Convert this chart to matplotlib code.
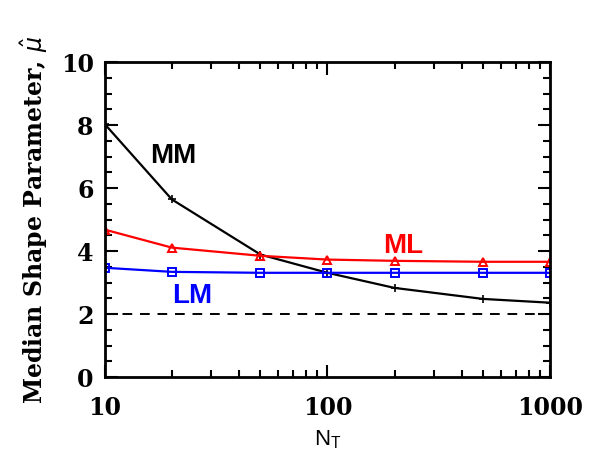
import matplotlib
matplotlib.use("Agg")
import matplotlib.pyplot as plt
from matplotlib.ticker import MultipleLocator, NullFormatter

NT = [10, 20, 50, 100, 200, 500, 1000]
mm = [8.03, 5.64, 3.89, 3.31, 2.83, 2.48, 2.36]
ml = [4.68, 4.11, 3.85, 3.73, 3.69, 3.66, 3.66]
lm = [3.47, 3.34, 3.31, 3.31, 3.31, 3.31, 3.31]
ref_level = 2.0
yticks = [0, 2, 4, 6, 8, 10]
xticks = [10, 100, 1000]
xticklabels = ["10", "100", "1000"]

fig = plt.figure(figsize=(5.89, 4.57), dpi=100)
ax = fig.add_axes([0.178, 0.175, 0.756, 0.689])

ax.plot(NT, mm, color="black", lw=1.6, marker="+", ms=6, mew=1.2)
ax.plot(NT, ml, color="#ff0000", lw=1.6, marker="^", ms=6, mfc="none", mew=1.4)
ax.plot(NT, lm, color="#0000ff", lw=1.6, marker="s", ms=6, mfc="none", mew=1.4)
ax.axhline(ref_level, color="black", lw=1.4, ls=(0, (5, 4)))

ax.set_xscale("log")
ax.set_xlim(10, 1000)
ax.set_ylim(0, 10)
ax.set_xticks(xticks)
ax.set_xticklabels(xticklabels)
ax.xaxis.set_minor_formatter(NullFormatter())
ax.set_yticks(yticks)
ax.yaxis.set_minor_locator(MultipleLocator(0.5))

for lab in ax.get_xticklabels() + ax.get_yticklabels():
    lab.set_fontfamily("DejaVu Serif")
    lab.set_fontweight("bold")
    lab.set_fontsize(17)

ax.tick_params(which="both", direction="in", top=True, right=True, width=1.5)
ax.tick_params(which="major", length=9)
ax.tick_params(which="minor", length=5)
ax.tick_params(axis="y", which="major", pad=8)
ax.tick_params(axis="x", which="major", pad=14)
for s in ax.spines.values():
    s.set_linewidth(2)

ax.set_ylabel(r"Median Shape Parameter, $\hat{\mu}$", fontfamily="DejaVu Serif",
              fontweight="bold", fontsize=17, labelpad=8)
ax.set_xlabel(r"N$_\mathregular{T}$", fontfamily="Liberation Sans", fontsize=16, labelpad=6)

lbl = dict(fontfamily="Liberation Sans", fontweight="bold", fontsize=20)
ax.text(15.9, 6.8, "MM", color="black", **lbl)
ax.text(177, 3.95, "ML", color="#ff0000", **lbl)
ax.text(20, 2.36, "LM", color="#0000ff", **lbl)

fig.savefig("out.png", dpi=100)
